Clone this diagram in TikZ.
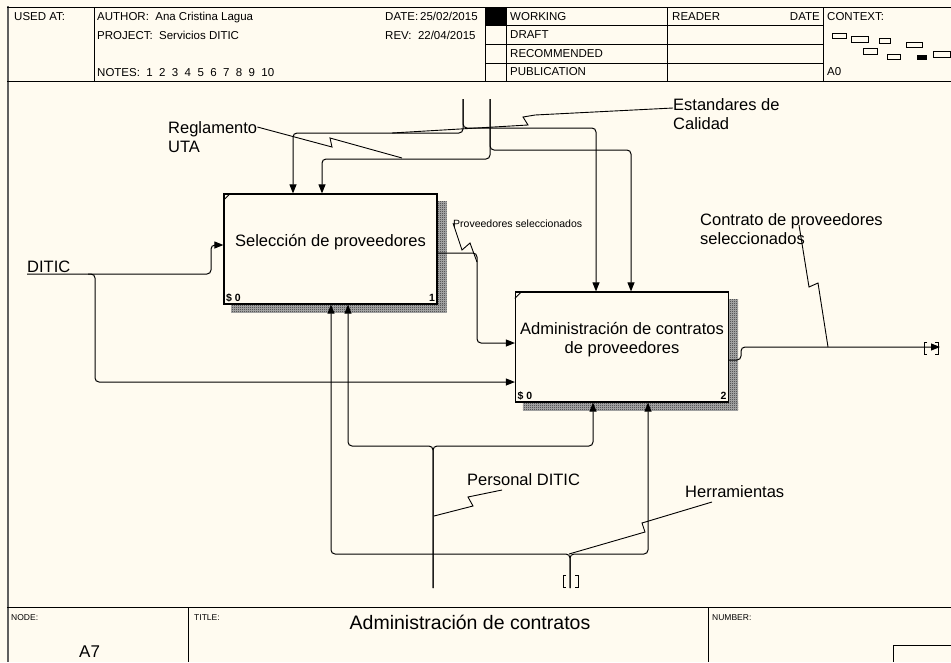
\documentclass[tikz,border=0pt]{standalone}
\usepackage{fontspec}
\setmainfont{Liberation Sans}
\usetikzlibrary{arrows.meta,patterns}
\definecolor{idefpaper}{RGB}{255,251,240}
\definecolor{idefframe}{RGB}{95,95,95}
\pgfdeclarepatternformonly{idefhatch}{\pgfqpoint{0pt}{0pt}}{\pgfqpoint{2pt}{2pt}}{\pgfqpoint{2pt}{2pt}}{%
  \pgfpathrectangle{\pgfqpoint{0pt}{0pt}}{\pgfqpoint{1pt}{1pt}}%
  \pgfpathrectangle{\pgfqpoint{1pt}{1pt}}{\pgfqpoint{1pt}{1pt}}%
  \pgfusepath{fill}}

\begin{document}
\begin{tikzpicture}[
    x=1pt,y=-1pt,
    act/.style={rectangle,draw,line width=1.2pt,fill=idefpaper,
      minimum width=213pt,minimum height=110pt,inner sep=0pt},
    acttext/.style={font=\fontsize{16.5}{19}\selectfont,align=center,inner sep=0pt},
    tag/.style={font=\fontsize{10.5}{12}\selectfont\bfseries,inner sep=2.5pt},
    hatch/.style={preaction={fill=black!30},pattern=idefhatch,pattern color=black!85},
    flow/.style={-{Triangle[length=9pt,width=7pt]},line width=1pt,rounded corners=4pt},
    squig/.style={line width=0.9pt},
    lbl/.style={font=\fontsize{16.5}{19}\selectfont,inner sep=0pt,align=left},
    small/.style={font=\fontsize{10.5}{12}\selectfont,inner sep=0pt},
    hdr/.style={font=\fontsize{11.5}{13}\selectfont,inner sep=0pt,anchor=base west},
    foot/.style={font=\fontsize{8.5}{10}\selectfont,inner sep=0pt,anchor=base west},
    rule/.style={line width=1pt}
  ]
    \fill[idefpaper] (0,0) rectangle (951,662);
    \useasboundingbox (0,0) rectangle (951,662);

    \draw[idefframe,line width=2pt] (8,6) -- (8,662);
    \draw[rule] (7,7) -- (951,7);
    \draw[rule] (7,81) -- (951,81);
    \draw[rule] (94,7) -- (94,81);
    \draw[rule] (485,25) -- (485,81);
    \draw[rule] (506,7) -- (506,81);
    \draw[rule] (667,7) -- (667,81);
    \draw[rule] (823,7) -- (823,81);
    \foreach \y in {25,44,63}
      \draw[rule] (485,\y) -- (823,\y);

    \node[hdr] (usedat) at (14,20) {USED AT:};
    \node[hdr] (author) at (97,20) {AUTHOR:\ \ Ana Cristina Lagua};
    \node[hdr] (project) at (97,39) {PROJECT:\ \ Servicios DITIC};
    \node[hdr] (notes) at (97,76) {NOTES:\ \ 1\ \ 2\ \ 3\ \ 4\ \ 5\ \ 6\ \ 7\ \ 8\ \ 9\ \ 10};
    \node[hdr] (date) at (385,20) {DATE:\,25/02/2015};
    \node[hdr] (rev) at (385,39) {REV:\ \ 22/04/2015};
    \fill (485,7) rectangle (506,25);
    \node[hdr] (working) at (510,20) {WORKING};
    \node[hdr] (draft) at (510,38.5) {DRAFT};
    \node[hdr] (recom) at (510,57) {RECOMMENDED};
    \node[hdr] (publ) at (510,75.5) {PUBLICATION};
    \node[hdr] (reader) at (672,20) {READER};
    \node[hdr,anchor=base east] (rdate) at (820,20) {DATE};
    \node[hdr] (context) at (827,20) {CONTEXT:};
    \node[hdr] (ctxnode) at (827,75.5) {A0};
    \foreach \a/\b/\c/\d in {832/33/846/38,851/36/868/42,879/38/890/43,906/42/922/47,
                             863/48/877/54,887/54/900/59,933/51/950/57}
      \draw[line width=0.9pt] (\a,\b) rectangle (\c,\d);
    \fill (917,55) rectangle (927,60);

    \draw[rule] (7,607) -- (951,607);
    \draw[rule] (188,607) -- (188,662);
    \draw[rule] (708,607) -- (708,662);
    \draw[rule] (893,645) -| (951,662);
    \draw[rule] (893,645) -- (893,662);
    \node[foot] (nodelbl) at (11,620) {NODE:};
    \node[font=\fontsize{17}{20}\selectfont,inner sep=0pt,anchor=base west] (nodeno) at (79,657) {A7};
    \node[foot] (titlelbl) at (194,620) {TITLE:};
    \node[font=\fontsize{19.5}{22}\selectfont,inner sep=0pt,anchor=base] (title) at (470,629) {Administración de contratos};
    \node[foot] (numlbl) at (712,620) {NUMBER:};

    \node[act,label={[acttext,yshift=7pt,name=selT]center:Selección de proveedores}] (sel) at (330.5,249) {};
    \node[act,label={[acttext,yshift=7pt,name=admT]center:Administración de contratos\\de proveedores}] (adm) at (622,347) {};

    \foreach \b in {sel,adm} {
      \fill[hatch] ([yshift=-8pt]\b.north east) rectangle ([xshift=9pt,yshift=-8pt]\b.south east);
      \fill[hatch] ([xshift=8pt]\b.south west) rectangle ([xshift=9pt,yshift=-8pt]\b.south east);
      \draw[line width=0.8pt] ([yshift=-7pt]\b.north west) -- ([xshift=7pt]\b.north west);
      \node[tag,anchor=south west] (\b S) at (\b.south west) {\$ 0};
    }
    \node[tag,anchor=south east] (selN) at (sel.south east) {1};
    \node[tag,anchor=south east] (admN) at (adm.south east) {2};

    \coordinate (ditic) at (27,274);
    \coordinate (dsplit) at (88,274);
    \coordinate (estd) at (463,99);
    \coordinate (regl) at (490,99);
    \coordinate (pers) at (433,588);
    \coordinate (herr) at (570,588);
    \coordinate (contr) at (940,347);

    \draw[flow] (ditic) -| (211,245) -- (sel.west |- 0,245);
    \draw[flow] (dsplit) -| (95,382) -- (adm.west |- 0,382);
    \draw[flow] (sel.east |- 0,253) -| (477,343) -- (adm.west |- 0,343);
    \draw[flow] (adm.east |- 0,360) -| (741,347) -- (contr);

    \draw[flow] (estd) |- (293,133) -- (293,0 |- sel.north);
    \draw[flow] (estd) |- (596,128) -- (596,0 |- adm.north);
    \draw[flow] (regl) |- (322,159) -- (322,0 |- sel.north);
    \draw[flow] (regl) |- (631,150) -- (631,0 |- adm.north);

    \draw[flow] (pers) |- (348,446) -- (348,0 |- sel.south);
    \draw[flow] (pers) |- (593,446) -- (593,0 |- adm.south);
    \draw[flow] (herr) |- (331,554) -- (331,0 |- sel.south);
    \draw[flow] (herr) |- (648,554) -- (648,0 |- adm.south);

    \draw[line width=0.9pt] (927,342) -- (924,342) -- (924,354) -- (927,354);
    \draw[line width=0.9pt] (935,342) -- (938,342) -- (938,354) -- (935,354);
    \draw[line width=0.9pt] (566,575) -- (563,575) -- (563,587) -- (566,587);
    \draw[line width=0.9pt] (575,575) -- (578,575) -- (578,587) -- (575,587);

    \node[lbl,anchor=base west] (diticT) at (27,272) {DITIC};
    \node[lbl,anchor=north west] (reglT) at (168,121) {Reglamento\\UTA};
    \node[lbl,anchor=north west] (estdT) at (673,98) {Estandares de\\Calidad};
    \node[lbl,anchor=north west] (contrT) at (700,213) {Contrato de proveedores\\seleccionados};
    \node[lbl,anchor=base west] (persT) at (467,485) {Personal DITIC};
    \node[lbl,anchor=base west] (herrT) at (685,497) {Herramientas};
    \node[small,anchor=base west] (provT) at (453,227) {Proveedores seleccionados};

    \draw[squig] ([yshift=-6pt]reglT.north east) -- (332,147) -- (330,138) -- (402,158);
    \draw[squig] ([yshift=-10pt]estdT.north west) -- (535,115) -- (523,117) -- (528,125) -- (392,133);
    \draw[squig] ([yshift=4pt]provT.base west) -- (462,250) -- (470,243) -- (477,262);
    \draw[squig] ([xshift=99pt,yshift=-12pt]contrT.north west) -- (809,287) -- (818,283) -- (828,347);
    \draw[squig] ([xshift=35pt,yshift=-5pt]persT.base west) -- (468,497) -- (473,506) -- (434,516);
    \draw[squig] ([xshift=27pt,yshift=-5pt]herrT.base west) -- (642,523) -- (645,532) -- (569,554);
  \end{tikzpicture}
\end{document}
